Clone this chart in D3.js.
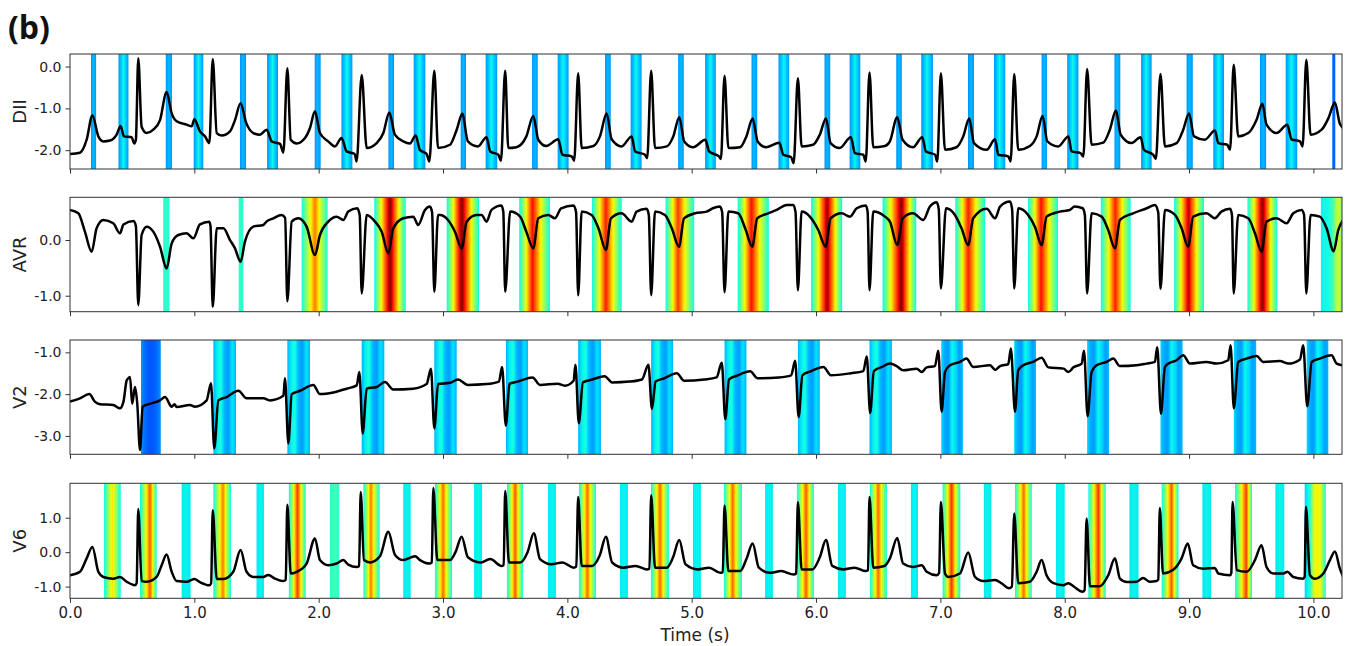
<!DOCTYPE html>
<html><head><meta charset="utf-8">
<script src="https://cdn.jsdelivr.net/npm/d3@7"></script>
<style>body{margin:0;background:#fff}svg text{font-family:"DejaVu Sans",sans-serif}</style>
</head><body><svg id="c" width="1345" height="646"></svg>
<script>
// ---------------- DATA ----------------
const timeTicks = [0,1,2,3,4,5,6,7,8,9,10];
const leadNames = ["DII","AVR","V2","V6"];
const ticksDII = [0,-1,-2];
const ticksAVR = [0,-1];
const ticksV2 = [-1,-2,-3];
const ticksV6 = [1,0,-1];

const dataDII = [[0,-2.09],[0.08,-2.06],[0.134,-1.75],[0.18,-1.17],[0.228,-1.67],[0.268,-1.79],[0.322,-1.77],[0.375,-1.63],[0.407,-1.42],[0.434,-1.67],[0.496,-1.69],[0.517,-1.84],[0.53,-1.75],[0.549,0.2],[0.576,-1.44],[0.616,-1.59],[0.67,-1.51],[0.724,-1.28],[0.777,-0.61],[0.818,-1.12],[0.858,-1.31],[0.938,-1.39],[0.979,-1.43],[1.0,-1.26],[1.045,-1.55],[1.086,-1.67],[1.121,-1.83],[1.148,0.18],[1.18,-1.59],[1.22,-1.65],[1.287,-1.55],[1.327,-1.28],[1.372,-0.88],[1.415,-1.33],[1.474,-1.59],[1.528,-1.63],[1.582,-1.51],[1.622,-1.79],[1.689,-1.85],[1.716,-2.06],[1.748,-0.04],[1.775,-1.75],[1.823,-1.84],[1.89,-1.71],[1.93,-1.47],[1.97,-1.07],[2.01,-1.59],[2.077,-1.79],[2.13,-1.91],[2.184,-1.71],[2.225,-2.03],[2.29,-2.09],[2.305,-2.27],[2.346,-0.2],[2.386,-1.95],[2.466,-1.83],[2.52,-1.59],[2.568,-1.1],[2.613,-1.63],[2.68,-1.79],[2.734,-1.84],[2.78,-1.65],[2.815,-2.0],[2.868,-2.09],[2.89,-2.27],[2.93,-0.1],[2.96,-1.95],[3.056,-1.87],[3.11,-1.51],[3.155,-1.13],[3.20,-1.79],[3.28,-1.91],[3.35,-1.69],[3.38,-2.03],[3.445,-2.11],[3.466,-2.25],[3.50,-0.1],[3.525,-1.95],[3.59,-1.93],[3.67,-1.67],[3.726,-1.18],[3.766,-1.75],[3.83,-1.9],[3.927,-1.74],[3.96,-2.11],[4.035,-2.15],[4.055,-2.25],[4.087,-0.16],[4.115,-1.95],[4.21,-1.9],[4.262,-1.67],[4.316,-1.12],[4.356,-1.74],[4.436,-1.91],[4.517,-1.67],[4.545,-2.03],[4.624,-2.11],[4.642,-2.19],[4.674,-0.1],[4.705,-1.95],[4.8,-1.91],[4.852,-1.67],[4.9,-1.21],[4.94,-1.79],[5.012,-1.93],[5.11,-1.75],[5.14,-2.03],[5.22,-2.15],[5.235,-2.21],[5.264,-0.22],[5.295,-1.95],[5.39,-1.93],[5.44,-1.67],[5.49,-1.24],[5.53,-1.79],[5.6,-1.93],[5.705,-1.82],[5.737,-2.11],[5.8,-2.17],[5.82,-2.31],[5.854,-0.28],[5.884,-1.91],[5.977,-1.87],[6.03,-1.63],[6.08,-1.24],[6.117,-1.83],[6.19,-1.95],[6.28,-1.69],[6.313,-2.07],[6.38,-2.11],[6.4,-2.27],[6.43,-0.14],[6.46,-1.93],[6.554,-1.9],[6.594,-1.79],[6.653,-1.21],[6.696,-1.75],[6.78,-1.93],[6.854,-1.69],[6.884,-2.03],[6.957,-2.11],[6.975,-2.27],[7.004,-0.16],[7.037,-1.99],[7.13,-1.93],[7.184,-1.67],[7.232,-1.24],[7.27,-1.83],[7.372,-1.99],[7.44,-1.74],[7.466,-2.11],[7.546,-2.15],[7.565,-2.27],[7.594,-0.18],[7.626,-1.99],[7.72,-1.9],[7.774,-1.67],[7.822,-1.18],[7.86,-1.79],[7.948,-1.91],[8.03,-1.67],[8.055,-2.03],[8.127,-2.07],[8.15,-2.15],[8.18,-0.06],[8.216,-1.87],[8.31,-1.82],[8.363,-1.51],[8.412,-1.05],[8.45,-1.63],[8.537,-1.83],[8.61,-1.69],[8.637,-1.99],[8.712,-2.11],[8.733,-2.21],[8.77,-0.18],[8.806,-1.91],[8.9,-1.83],[8.953,-1.51],[9.0,-1.12],[9.04,-1.67],[9.127,-1.75],[9.208,-1.53],[9.235,-1.83],[9.307,-1.87],[9.33,-1.99],[9.359,0.04],[9.395,-1.67],[9.476,-1.59],[9.543,-1.27],[9.59,-0.89],[9.623,-1.39],[9.704,-1.59],[9.79,-1.39],[9.824,-1.74],[9.892,-1.79],[9.913,-1.91],[9.943,0.16],[9.977,-1.63],[10.066,-1.51],[10.12,-1.24],[10.173,-0.86],[10.213,-1.37],[10.25,-1.49]];

const dataAVR = [[0,0.54],[0.067,0.48],[0.12,0.15],[0.174,-0.21],[0.214,0.21],[0.268,0.36],[0.348,0.3],[0.402,0.12],[0.43,0.28],[0.51,0.34],[0.53,0.25],[0.549,-1.17],[0.576,0.09],[0.617,0.24],[0.67,0.15],[0.724,-0.12],[0.777,-0.51],[0.818,-0.06],[0.871,0.09],[0.938,0.12],[0.992,0.03],[1.045,0.28],[1.12,0.33],[1.13,0.25],[1.148,-1.2],[1.18,0.21],[1.234,0.21],[1.287,0.0],[1.327,-0.15],[1.372,-0.39],[1.407,-0.03],[1.474,0.24],[1.555,0.27],[1.58,0.33],[1.635,0.39],[1.7,0.45],[1.73,0.4],[1.748,-1.1],[1.783,0.33],[1.836,0.39],[1.903,0.24],[1.97,-0.27],[2.01,0.09],[2.077,0.33],[2.144,0.42],[2.198,0.36],[2.238,0.51],[2.31,0.57],[2.33,0.45],[2.346,-0.96],[2.386,0.45],[2.453,0.33],[2.507,0.15],[2.56,-0.24],[2.6,0.21],[2.68,0.39],[2.76,0.42],[2.8,0.27],[2.855,0.54],[2.895,0.6],[2.912,0.5],[2.93,-0.93],[2.96,0.45],[2.975,0.45],[3.04,0.36],[3.096,0.15],[3.15,-0.15],[3.19,0.33],[3.27,0.45],[3.31,0.45],[3.35,0.33],[3.39,0.54],[3.47,0.62],[3.485,0.5],[3.50,-0.93],[3.54,0.51],[3.62,0.42],[3.67,0.15],[3.726,-0.15],[3.766,0.39],[3.846,0.45],[3.9,0.39],[3.95,0.57],[4.05,0.62],[4.07,0.5],[4.087,-0.99],[4.115,0.51],[4.195,0.45],[4.25,0.21],[4.31,-0.18],[4.35,0.39],[4.436,0.48],[4.517,0.33],[4.557,0.51],[4.637,0.56],[4.655,0.45],[4.674,-0.99],[4.705,0.51],[4.785,0.45],[4.84,0.21],[4.898,-0.12],[4.938,0.39],[5.026,0.48],[5.12,0.51],[5.17,0.57],[5.227,0.6],[5.245,0.5],[5.264,-0.94],[5.295,0.51],[5.374,0.48],[5.43,0.21],[5.487,-0.12],[5.527,0.39],[5.616,0.48],[5.683,0.54],[5.764,0.63],[5.817,0.63],[5.835,0.5],[5.854,-0.9],[5.884,0.51],[5.95,0.42],[6.018,0.18],[6.077,-0.12],[6.117,0.39],[6.206,0.48],[6.273,0.42],[6.327,0.57],[6.4,0.62],[6.415,0.5],[6.43,-0.9],[6.46,0.51],[6.554,0.42],[6.594,0.33],[6.653,-0.09],[6.696,0.39],[6.78,0.48],[6.862,0.36],[6.916,0.6],[6.97,0.68],[6.987,0.55],[7.004,-0.87],[7.045,0.57],[7.117,0.45],[7.17,0.21],[7.224,-0.09],[7.264,0.39],[7.372,0.56],[7.44,0.39],[7.48,0.6],[7.56,0.69],[7.577,0.55],[7.594,-0.87],[7.626,0.57],[7.706,0.45],[7.76,0.24],[7.814,-0.09],[7.854,0.42],[7.96,0.51],[8.04,0.54],[8.08,0.6],[8.144,0.57],[8.162,0.45],[8.18,-0.96],[8.216,0.48],[8.297,0.42],[8.35,0.18],[8.404,-0.15],[8.444,0.36],[8.55,0.48],[8.66,0.57],[8.725,0.63],[8.752,0.5],[8.77,-0.88],[8.806,0.54],[8.887,0.45],[8.94,0.21],[8.993,-0.12],[9.033,0.42],[9.14,0.48],[9.208,0.39],[9.26,0.51],[9.33,0.56],[9.345,0.45],[9.359,-0.96],[9.395,0.45],[9.476,0.39],[9.53,0.12],[9.583,-0.21],[9.623,0.33],[9.704,0.39],[9.784,0.3],[9.838,0.48],[9.905,0.54],[9.925,0.45],[9.943,-0.96],[9.977,0.45],[10.052,0.42],[10.106,0.21],[10.163,-0.2],[10.2,0.18],[10.24,0.36]];

const dataV2 = [[0,-2.18],[0.08,-2.1],[0.155,-2.0],[0.2,-2.18],[0.241,-2.24],[0.348,-2.26],[0.402,-2.34],[0.43,-2.18],[0.456,-1.67],[0.47,-1.62],[0.483,-1.59],[0.5,-2.23],[0.523,-1.83],[0.541,-2.23],[0.563,-3.34],[0.584,-2.3],[0.643,-2.23],[0.724,-2.15],[0.764,-2.07],[0.818,-2.3],[0.84,-2.24],[0.858,-2.31],[0.965,-2.26],[1.005,-2.3],[1.099,-2.15],[1.134,-1.74],[1.16,-3.3],[1.193,-2.15],[1.26,-2.07],[1.354,-1.92],[1.42,-2.1],[1.555,-2.1],[1.608,-2.15],[1.716,-2.04],[1.729,-1.62],[1.756,-3.18],[1.783,-2.0],[1.85,-1.92],[1.957,-1.78],[2.01,-2.0],[2.118,-1.96],[2.225,-1.87],[2.306,-1.79],[2.327,-1.47],[2.354,-2.94],[2.386,-1.87],[2.466,-1.83],[2.533,-1.71],[2.6,-1.89],[2.76,-1.87],[2.868,-1.76],[2.903,-1.39],[2.93,-2.82],[2.96,-1.76],[3.056,-1.73],[3.12,-1.65],[3.2,-1.78],[3.35,-1.76],[3.45,-1.7],[3.475,-1.35],[3.505,-2.75],[3.535,-1.75],[3.6,-1.7],[3.72,-1.6],[3.78,-1.78],[3.92,-1.75],[3.98,-1.8],[4.05,-1.68],[4.065,-1.3],[4.092,-2.7],[4.125,-1.72],[4.2,-1.65],[4.3,-1.57],[4.36,-1.72],[4.5,-1.7],[4.6,-1.65],[4.652,-1.3],[4.68,-2.35],[4.71,-1.7],[4.78,-1.62],[4.88,-1.5],[4.94,-1.68],[5.1,-1.65],[5.2,-1.6],[5.242,-1.25],[5.27,-2.6],[5.3,-1.65],[5.37,-1.55],[5.47,-1.45],[5.53,-1.62],[5.7,-1.6],[5.8,-1.55],[5.832,-1.2],[5.86,-2.55],[5.89,-1.55],[5.96,-1.45],[6.06,-1.35],[6.12,-1.55],[6.28,-1.5],[6.38,-1.45],[6.408,-1.1],[6.435,-2.45],[6.465,-1.45],[6.53,-1.35],[6.594,-1.27],[6.648,-1.33],[6.7,-1.43],[6.81,-1.39],[6.85,-1.47],[6.89,-1.36],[6.956,-1.33],[6.983,-0.96],[7.01,-2.42],[7.037,-1.47],[7.077,-1.31],[7.157,-1.23],[7.21,-1.15],[7.264,-1.35],[7.4,-1.31],[7.44,-1.42],[7.48,-1.33],[7.546,-1.28],[7.567,-0.91],[7.6,-2.42],[7.626,-1.43],[7.667,-1.31],[7.747,-1.23],[7.814,-1.13],[7.868,-1.36],[7.99,-1.39],[8.03,-1.47],[8.07,-1.36],[8.136,-1.27],[8.155,-0.96],[8.184,-2.53],[8.216,-1.47],[8.256,-1.31],[8.337,-1.23],[8.39,-1.15],[8.444,-1.33],[8.578,-1.31],[8.658,-1.27],[8.725,-1.23],[8.744,-0.88],[8.774,-2.47],[8.806,-1.35],[8.846,-1.25],[8.9,-1.19],[8.953,-1.07],[9.007,-1.27],[9.14,-1.23],[9.22,-1.27],[9.315,-1.19],[9.334,-0.83],[9.36,-2.34],[9.395,-1.23],[9.463,-1.15],[9.543,-1.09],[9.597,-1.23],[9.73,-1.21],[9.8,-1.27],[9.892,-1.17],[9.918,-0.83],[9.95,-2.29],[9.986,-1.23],[10.052,-1.15],[10.146,-1.07],[10.187,-1.27],[10.235,-1.31]];

const dataV6 = [[0,-0.67],[0.08,-0.57],[0.134,-0.18],[0.18,0.15],[0.228,-0.57],[0.268,-0.72],[0.348,-0.77],[0.402,-0.72],[0.456,-0.86],[0.523,-0.96],[0.536,-0.9],[0.549,1.25],[0.576,-0.84],[0.617,-0.86],[0.697,-0.72],[0.737,-0.38],[0.777,-0.07],[0.818,-0.57],[0.858,-0.84],[0.938,-0.86],[1.0,-0.78],[1.045,-0.87],[1.12,-0.96],[1.135,-0.9],[1.148,1.22],[1.18,-0.78],[1.234,-0.78],[1.313,-0.57],[1.372,0.06],[1.42,-0.57],[1.474,-0.72],[1.555,-0.72],[1.595,-0.66],[1.649,-0.77],[1.716,-0.84],[1.735,-0.8],[1.748,1.38],[1.775,-0.62],[1.823,-0.57],[1.903,-0.33],[1.97,0.4],[2.01,-0.23],[2.077,-0.38],[2.144,-0.33],[2.198,-0.23],[2.238,-0.36],[2.306,-0.43],[2.325,-0.4],[2.338,1.75],[2.364,-0.23],[2.413,-0.3],[2.493,-0.12],[2.56,0.59],[2.614,-0.08],[2.68,-0.23],[2.775,-0.12],[2.815,-0.23],[2.89,-0.33],[2.91,-0.3],[2.922,1.86],[2.954,-0.23],[3.056,-0.23],[3.1,0.0],[3.15,0.45],[3.2,-0.15],[3.3,-0.3],[3.38,-0.2],[3.47,-0.4],[3.488,-0.38],[3.50,1.78],[3.53,-0.3],[3.62,-0.3],[3.68,0.0],[3.73,0.55],[3.78,-0.2],[3.87,-0.35],[3.96,-0.3],[4.05,-0.45],[4.072,-0.42],[4.087,1.6],[4.115,-0.4],[4.2,-0.4],[4.26,-0.1],[4.31,0.45],[4.36,-0.3],[4.45,-0.45],[4.55,-0.4],[4.64,-0.5],[4.66,-0.48],[4.674,1.65],[4.705,-0.45],[4.8,-0.45],[4.85,-0.15],[4.9,0.35],[4.95,-0.35],[5.05,-0.5],[5.14,-0.45],[5.23,-0.6],[5.25,-0.58],[5.264,1.35],[5.295,-0.55],[5.39,-0.55],[5.44,-0.2],[5.49,0.25],[5.54,-0.45],[5.63,-0.6],[5.72,-0.55],[5.82,-0.65],[5.84,-0.62],[5.854,1.45],[5.884,-0.5],[5.97,-0.5],[6.03,-0.15],[6.08,0.35],[6.13,-0.4],[6.22,-0.5],[6.31,-0.45],[6.4,-0.55],[6.418,-0.52],[6.43,1.6],[6.46,-0.45],[6.55,-0.4],[6.594,-0.18],[6.653,0.41],[6.7,-0.33],[6.78,-0.43],[6.85,-0.38],[6.89,-0.57],[6.97,-0.67],[6.99,-0.6],[7.004,1.46],[7.037,-0.62],[7.063,-0.72],[7.157,-0.62],[7.224,-0.01],[7.278,-0.72],[7.345,-0.84],[7.44,-0.81],[7.49,-0.9],[7.553,-1.05],[7.575,-1.0],[7.594,1.12],[7.626,-0.9],[7.72,-0.86],[7.774,-0.57],[7.814,-0.23],[7.854,-0.67],[7.91,-0.9],[7.99,-0.96],[8.03,-0.9],[8.07,-0.99],[8.144,-1.15],[8.16,-1.1],[8.176,0.98],[8.203,-0.99],[8.28,-0.99],[8.35,-0.67],[8.404,-0.18],[8.444,-0.77],[8.5,-0.87],[8.578,-0.86],[8.63,-0.75],[8.685,-0.86],[8.738,-0.84],[8.752,-0.8],[8.765,1.28],[8.79,-0.62],[8.87,-0.52],[8.94,-0.18],[8.99,0.25],[9.033,-0.38],[9.114,-0.48],[9.208,-0.46],[9.235,-0.62],[9.33,-0.67],[9.34,-0.6],[9.35,1.46],[9.383,-0.52],[9.463,-0.57],[9.53,-0.23],[9.583,0.2],[9.623,-0.43],[9.677,-0.62],[9.758,-0.62],[9.79,-0.57],[9.838,-0.72],[9.918,-0.77],[9.93,-0.7],[9.94,1.31],[9.972,-0.67],[10.012,-0.77],[10.08,-0.62],[10.133,-0.23],[10.173,0.02],[10.213,-0.48],[10.24,-0.72]];

// saliency bands: [start, end, peak value, edge value, peak time (optional)]
// or [start, end, [colour values across the band]]
const bandsDII = [[0.169,0.21,0.31,0.27],[0.39,0.47,0.37,0.27],[0.77,0.82,0.31,0.27],[0.995,1.072,0.37,0.27],[1.367,1.416,0.31,0.27],[1.585,1.673,0.37,0.27],[1.968,2.016,0.31,0.27],[2.183,2.271,0.37,0.27],[2.561,2.606,0.31,0.27],[2.764,2.858,0.37,0.27],[3.142,3.185,0.31,0.27],[3.343,3.436,0.37,0.27],[3.716,3.762,0.31,0.27],[3.922,4.010,0.37,0.27],[4.303,4.349,0.31,0.27],[4.509,4.597,0.37,0.27],[4.891,4.936,0.31,0.27],[5.108,5.194,0.37,0.27],[5.481,5.527,0.31,0.27],[5.698,5.784,0.37,0.27],[6.068,6.114,0.31,0.27],[6.27,6.356,0.37,0.27],[6.645,6.69,0.31,0.27],[6.846,6.940,0.37,0.27],[7.222,7.27,0.31,0.27],[7.431,7.522,0.37,0.27],[7.814,7.857,0.31,0.27],[8.02,8.11,0.37,0.27],[8.40,8.447,0.31,0.27],[8.614,8.699,0.37,0.27],[8.98,9.03,0.31,0.27],[9.195,9.281,0.37,0.27],[9.57,9.62,0.31,0.27],[9.777,9.87,0.37,0.27],[10.152,10.176,0.22,0.22]];

const bandsAVR = [[0.75,0.80,0.41,0.39],[1.357,1.394,0.41,0.39],[1.863,2.072,0.78,0.37,1.97],[2.447,2.70,1.0,0.36,2.574],[3.03,3.29,1.0,0.36,3.15],[3.613,3.86,0.9,0.36,3.72],[4.198,4.437,0.88,0.36,4.31],[4.79,5.02,0.85,0.36,4.89],[5.37,5.62,0.9,0.36,5.48],[5.96,6.21,0.98,0.36,6.09],[6.535,6.806,1.0,0.36,6.685],[7.12,7.36,0.88,0.36,7.224],[7.705,7.946,0.9,0.36,7.81],[8.29,8.53,0.88,0.36,8.407],[8.88,9.12,0.95,0.36,8.995],[9.47,9.71,1.0,0.36,9.59],[10.06,10.24,[0.36,0.37,0.37,0.38,0.42,0.5,0.6,0.55,0.45]]];

const bandsV2 = [[0.571,0.73,[0.27,0.23,0.21,0.21,0.23,0.27]],[1.153,1.335,[0.3,0.36,0.38,0.3,0.28,0.35,0.3]],[1.748,1.93,[0.3,0.36,0.38,0.3,0.28,0.35,0.3]],[2.346,2.528,[0.3,0.36,0.38,0.3,0.28,0.35,0.3]],[2.93,3.11,[0.3,0.36,0.38,0.3,0.28,0.35,0.3]],[3.506,3.683,[0.3,0.36,0.38,0.3,0.28,0.35,0.3]],[4.087,4.27,[0.3,0.36,0.38,0.3,0.28,0.35,0.3]],[4.674,4.85,[0.3,0.36,0.38,0.3,0.28,0.35,0.3]],[5.264,5.44,[0.3,0.36,0.38,0.3,0.28,0.35,0.3]],[5.854,6.03,[0.3,0.36,0.38,0.3,0.28,0.35,0.3]],[6.43,6.61,[0.3,0.36,0.38,0.3,0.28,0.35,0.3]],[7.007,7.181,[0.34,0.29,0.28,0.37,0.34,0.28,0.31]],[7.594,7.769,[0.34,0.29,0.28,0.37,0.34,0.28,0.31]],[8.18,8.356,[0.34,0.29,0.28,0.37,0.34,0.28,0.31]],[8.77,8.948,[0.34,0.29,0.28,0.37,0.34,0.28,0.31]],[9.36,9.54,[0.34,0.29,0.28,0.37,0.34,0.28,0.31]],[9.946,10.12,[0.34,0.29,0.28,0.37,0.34,0.28,0.31]]];

const bandsV6 = [[0.273,0.408,0.68,0.36,0.34],[0.563,0.697,0.82,0.36,0.644],[0.898,0.97,0.365,0.355],[1.153,1.295,0.78,0.36,1.23],[1.50,1.56,0.365,0.355],[1.76,1.896,0.85,0.36,1.83],[2.09,2.166,0.43,0.4],[2.36,2.49,0.78,0.36,2.42],[2.68,2.74,0.365,0.355],[2.935,3.072,0.8,0.36,3.0],[3.25,3.314,0.365,0.355],[3.514,3.643,0.82,0.36,3.58],[3.844,3.908,0.365,0.355],[4.093,4.23,0.8,0.36,4.16],[4.423,4.487,0.365,0.355],[4.672,4.817,0.8,0.36,4.745],[5.01,5.074,0.365,0.355],[5.259,5.404,0.8,0.36,5.33],[5.59,5.653,0.365,0.355],[5.846,5.983,0.82,0.36,5.92],[6.176,6.24,0.365,0.355],[6.433,6.57,0.8,0.36,6.50],[6.763,6.82,0.365,0.355],[7.018,7.16,0.86,0.36,7.09],[7.35,7.41,0.365,0.355],[7.60,7.735,0.8,0.36,7.67],[7.93,8.0,0.365,0.355],[8.19,8.33,0.86,0.36,8.27],[8.52,8.594,0.365,0.355],[8.78,8.915,0.82,0.36,8.86],[9.107,9.177,0.365,0.355],[9.37,9.506,0.85,0.36,9.46],[9.694,9.766,0.365,0.355],[9.93,10.1,[0.33,0.36,0.4,0.55,0.64,0.66,0.62,0.5,0.37]]];

// ---------------- RENDER ----------------
const svg = d3.select("#c");
const X0 = 70, X1 = 1342;
const x = d3.scaleLinear().domain([0, 10.23]).range([X0, X1]);

const panels = [
  {name:leadNames[0], data:dataDII, bands:bandsDII, ticks:ticksDII, dom:[-2.45,0.30], top:54, bottom:169},
  {name:leadNames[1], data:dataAVR, bands:bandsAVR, ticks:ticksAVR, dom:[-1.287,0.767], top:197.3, bottom:311.7},
  {name:leadNames[2], data:dataV2, bands:bandsV2, ticks:ticksV2, dom:[-3.44,-0.705], top:340, bottom:454.3},
  {name:leadNames[3], data:dataV6, bands:bandsV6, ticks:ticksV6, dom:[-1.34,2.0], top:483.3, bottom:598.3}
];

function interp(pts, v){
  for (let i=1;i<pts.length;i++){
    if (v<=pts[i][0]){ const a=pts[i-1], b=pts[i]; return a[1]+(b[1]-a[1])*(v-a[0])/(b[0]-a[0]); }
  }
  return pts[pts.length-1][1];
}
function jet(v){
  v=Math.max(0,Math.min(1,v));
  const r=interp([[0,0],[0.35,0],[0.66,1],[0.89,1],[1,0.5]],v);
  const g=interp([[0,0],[0.125,0],[0.375,1],[0.64,1],[0.91,0],[1,0]],v);
  const b=interp([[0,0.5],[0.11,1],[0.34,1],[0.65,0],[1,0]],v);
  return d3.rgb(r*255,g*255,b*255).formatHex();
}
function bandProfile(b){
  const out=[];
  if (Array.isArray(b[2])){
    const vals=b[2], N=40;
    for (let i=0;i<N;i++){
      const f=i/(N-1), k=f*(vals.length-1), j=Math.min(vals.length-2,Math.floor(k));
      out.push([f, vals[j]+(vals[j+1]-vals[j])*(k-j)]);
    }
    return out;
  }
  const [t0,t1,vp,ve,tp0] = b;
  const tp = tp0===undefined ? (t0+t1)/2 : tp0;
  const p = (tp-t0)/(t1-t0);
  const N=40;
  for (let i=0;i<N;i++){
    const f=i/(N-1);
    const d = f<p ? (p-f)/p : (f-p)/(1-p || 1);
    out.push([f, vp-(vp-ve)*Math.min(1,d)]);
  }
  return out;
}

const defs = svg.append("defs");
const line = d3.line().curve(d3.curveMonotoneX);

panels.forEach((P, pi)=>{
  const y = d3.scaleLinear().domain(P.dom).range([P.bottom, P.top]);
  const g = svg.append("g");
  const cid = "clip"+pi;
  defs.append("clipPath").attr("id",cid).append("rect")
    .attr("x",X0).attr("y",P.top).attr("width",X1-X0).attr("height",P.bottom-P.top);
  const plot = g.append("g").attr("clip-path",`url(#${cid})`);
  P.bands.forEach((b,bi)=>{
    const gid = `gr${pi}_${bi}`;
    const gr = defs.append("linearGradient").attr("id",gid).attr("x1","0").attr("x2","1").attr("y1","0").attr("y2","0");
    bandProfile(b).forEach(([f,v])=>gr.append("stop").attr("offset",f).attr("stop-color",jet(v)));
    plot.append("rect").attr("x",x(b[0])).attr("y",P.top)
      .attr("width",x(b[1])-x(b[0])).attr("height",P.bottom-P.top)
      .attr("fill",`url(#${gid})`);
  });
  plot.append("path").datum(P.data)
    .attr("d", line.x(d=>x(d[0])).y(d=>y(d[1])))
    .attr("fill","none").attr("stroke","#000").attr("stroke-width",2.5)
    .attr("stroke-linejoin","round");

  g.append("rect").attr("x",X0).attr("y",P.top).attr("width",X1-X0).attr("height",P.bottom-P.top)
    .attr("fill","none").attr("stroke","#333").attr("stroke-width",1);

  const ya = d3.axisLeft(y).tickValues(P.ticks).tickSize(4.5).tickPadding(4).tickFormat(v=>v.toFixed(1));
  const yg = g.append("g").attr("transform",`translate(${X0},0)`).call(ya);
  yg.select(".domain").remove();
  yg.selectAll("line").attr("stroke","#333");
  yg.selectAll("text").attr("font-size",14).attr("fill","#222").style("font-family","DejaVu Sans");

  const last = pi===panels.length-1;
  const xa = d3.axisBottom(x).tickValues(timeTicks).tickSize(4.5).tickPadding(5)
    .tickFormat(last ? (v=>v.toFixed(1)) : (()=>""));
  const xg = g.append("g").attr("transform",`translate(0,${P.bottom})`).call(xa);
  xg.select(".domain").remove();
  xg.selectAll("line").attr("stroke","#333");
  xg.selectAll("text").attr("font-size",15).attr("fill","#222").style("font-family","DejaVu Sans");

  g.append("text").attr("transform",`translate(26,${(P.top+P.bottom)/2}) rotate(-90)`)
    .attr("text-anchor","middle").attr("font-size",18).attr("fill","#222").text(P.name);
});

svg.append("text").attr("x",695).attr("y",641).attr("text-anchor","middle")
  .attr("font-size",17).attr("fill","#222").text("Time (s)");
svg.append("text").attr("x",8).attr("y",39).attr("font-size",32).attr("font-weight","bold")
  .style("font-family","'Open Sans',sans-serif").attr("fill","#111").text("(b)");
</script></body></html>
